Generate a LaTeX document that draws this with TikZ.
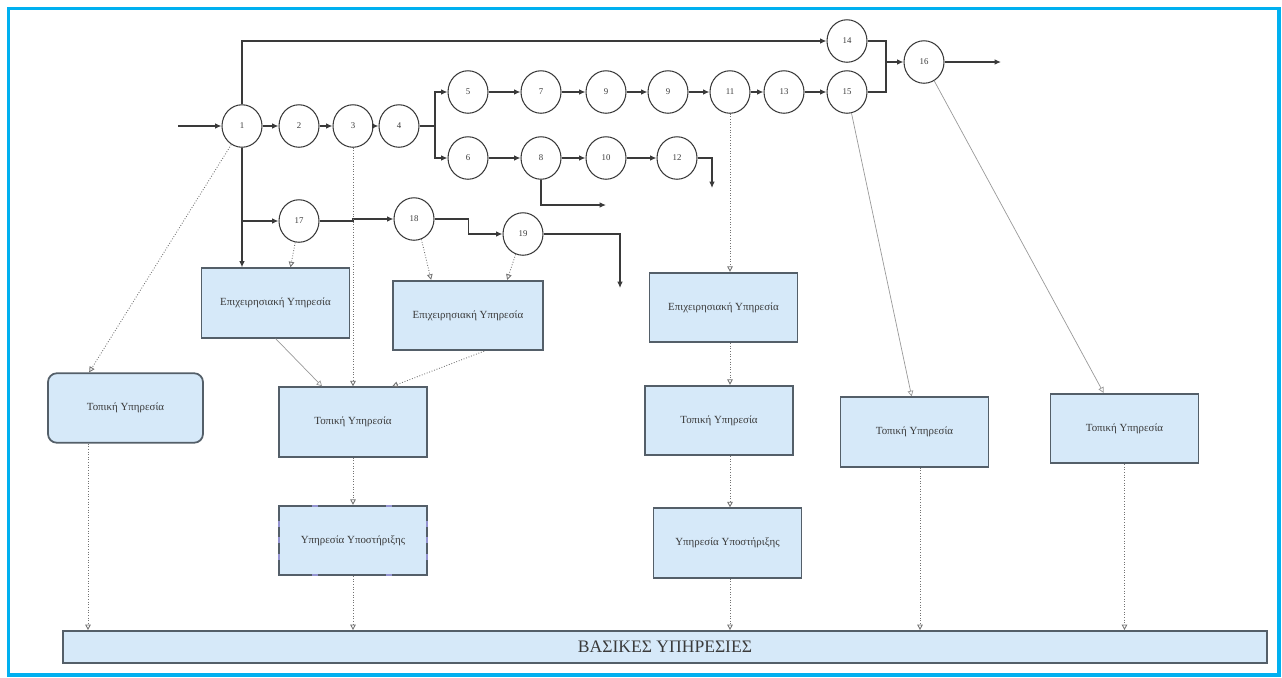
\documentclass[tikz,border=0pt]{standalone}
\usepackage{fontspec}
\setmainfont{Liberation Serif}
\usetikzlibrary{arrows.meta,positioning,calc,shapes.geometric}

\definecolor{svcfill}{HTML}{D6E9F9}
\definecolor{svcline}{HTML}{545F69}
\definecolor{frameblue}{HTML}{00B0F0}
\definecolor{ink}{HTML}{3A3A3A}

\begin{document}
\begin{tikzpicture}[x=0.02cm,y=-0.02cm,
    state/.style={ellipse,draw=ink,line width=0.6pt,minimum width=0.8cm,minimum height=0.85cm,inner sep=0pt,font=\fontsize{5}{6}\selectfont,text=ink},
    svc/.style={rectangle,draw=svcline,fill=svcfill,line width=1pt,minimum width=2.96cm,minimum height=1.39cm,font=\fontsize{6.2}{7}\selectfont,text=ink},
    flow/.style={draw=ink,line width=0.7pt,-{Latex[length=3.6pt,width=3.2pt]}},
    wire/.style={draw=ink,line width=0.7pt},
    dep/.style={draw=gray!90!black,line width=0.5pt,densely dotted,-{Triangle[open,length=3.2pt,width=3.2pt]}},
    link/.style={draw=gray!80,line width=0.4pt,-{Triangle[open,length=3.2pt,width=3.2pt]}},
    handle/.style={draw=blue!40!gray!60,line width=1pt}]
    \useasboundingbox (0,0) rectangle (1282,677);
    \draw[frameblue,line width=1.8pt] (8.5,8.5) rectangle (1279,675);

    % main chain
    \node[state] (n1) at (242,126) {1};
    \node[state] (n2) at (299,126) {2};
    \node[state] (n3) at (353,126) {3};
    \node[state] (n4) at (399,126) {4};
    \foreach \x/\t [count=\i] in {468/5,541/7,606/9,668/9,730/11,784/13,847/15} {
        \node[state] (a\i) at (\x,92) {\t};
    }
    \foreach \x/\t [count=\i] in {468/6,541/8,606/10,677/12} {
        \node[state] (b\i) at (\x,158) {\t};
    }
    \node[state] (n14) at (847,41) {14};
    \node[state] (n16) at (924,62) {16};
    \node[state] (n17) at (299,221) {17};
    \node[state] (n18) at (414,219) {18};
    \node[state] (n19) at (523,234) {19};

    \coordinate (in) at (178,126);
    \coordinate (sp) at (435,126);
    \coordinate (jn) at (886,62);
    \coordinate (o8) at (606,205);
    \coordinate (o12) at (712,188);
    \coordinate (o16) at (1001,62);
    \coordinate (o19) at (620,288);

    % services
    \node[svc] (epi1) at (275.5,303) {Επιχειρησιακή Υπηρεσία};
    \node[svc,minimum width=3cm] (epi2) at (468,315.5) {Επιχειρησιακή Υπηρεσία};
    \node[svc] (epi3) at (723.5,307.5) {Επιχειρησιακή Υπηρεσία};
    \node[svc,rounded corners=5pt,minimum width=3.1cm] (topA) at (125.5,408) {Τοπική Υπηρεσία};
    \node[svc] (topB) at (353,422) {Τοπική Υπηρεσία};
    \node[svc] (topC) at (719,420.5) {Τοπική Υπηρεσία};
    \node[svc] (topD) at (914.5,432) {Τοπική Υπηρεσία};
    \node[svc] (topE) at (1124.5,428.5) {Τοπική Υπηρεσία};
    \node[svc] (supB) at (353,540.5) {Υπηρεσία Υποστήριξης};
    \node[svc] (supC) at (727.5,543) {Υπηρεσία Υποστήριξης};
    \node[svc,minimum width=24.08cm,minimum height=0.64cm,font=\fontsize{10}{12}\selectfont] (bar) at (665,647) {ΒΑΣΙΚΕΣ ΥΠΗΡΕΣΙΕΣ};

    % selection handles
    \foreach \x in {315,389} {
        \draw[handle] (\x-3,506) -- (\x+3,506);
        \draw[handle] (\x-3,575) -- (\x+3,575);
    }
    \foreach \y in {524,540,557} {
        \draw[handle] (279,\y-3) -- (279,\y+3);
        \draw[handle] (427,\y-3) -- (427,\y+3);
    }

    % flow arrows
    \draw[flow] (in) -- (n1);
    \foreach \a/\b in {n1/n2,n2/n3,n3/n4} {
        \draw[flow] (\a) -- (\b);
    }
    \draw[wire] (n4) -- (sp);
    \draw[flow] (sp) |- (a1);
    \draw[flow] (sp) |- (b1);
    \foreach \i/\j in {1/2,2/3,3/4,4/5,5/6,6/7} {
        \draw[flow] (a\i) -- (a\j);
    }
    \foreach \i/\j in {1/2,2/3,3/4} {
        \draw[flow] (b\i) -- (b\j);
    }
    \draw[flow] (b2) |- (o8);
    \draw[flow] (b4) -| (o12);
    \draw[flow] (n1) |- (n14);
    \draw[wire] (n14) -| (jn);
    \draw[wire] (a7) -| (jn);
    \draw[flow] (jn) -- (n16);
    \draw[flow] (n16) -- (o16);

    \draw[flow] (n1) -- (n1 |- epi1.north);
    \draw[flow] (n1 |- n17) -- (n17);
    \draw[flow] (n17) -- (n17 -| n3) |- (n18);
    \draw[flow] (n18.east) -- ++(34,0) |- (n19);
    \draw[flow] (n19) -| (o19);

    % service links
    \draw[dep] (n17.-100) -- ([xshift=0.3cm]epi1.north);
    \draw[dep] (n18.-70) -- ($(epi2.north west)+(39,0)$);
    \draw[dep] (n19.-110) -- ($(epi2.north west)+(115,0)$);
    \draw[dep] (n3) -- (topB);
    \draw[link] ($(epi1.south west)+(75,0)$) -- ($(topB.north west)+(44,0)$);
    \draw[dep] ($(epi2.south west)+(92,0)$) -- ($(topB.north west)+(114,0)$);
    \draw[dep] (topB) -- (supB);
    \draw[dep] (supB) -- (supB |- bar.north);
    \draw[dep] (n1.-120) -- ($(topA.north west)+(42,0)$);
    \draw[dep] ([xshift=-0.75cm]topA.south) -- ([xshift=-0.75cm]topA.south |- bar.north);

    \draw[dep] (a5) -- (a5 |- epi3.north);
    \draw[dep] (a5 |- epi3.south) -- (a5 |- topC.north);
    \draw[dep] (a5 |- topC.south) -- (a5 |- supC.north);
    \draw[dep] (a5 |- supC.south) -- (a5 |- bar.north);
    \draw[link] (a7) -- ($(topD.north west)+(72,0)$);
    \draw[link] (n16) -- ($(topE.north west)+(54,0)$);
    \draw[dep] ([xshift=0.11cm]topD.south) -- ([xshift=0.11cm]topD.south |- bar.north);
    \draw[dep] (topE) -- (topE |- bar.north);
\end{tikzpicture}
\end{document}
